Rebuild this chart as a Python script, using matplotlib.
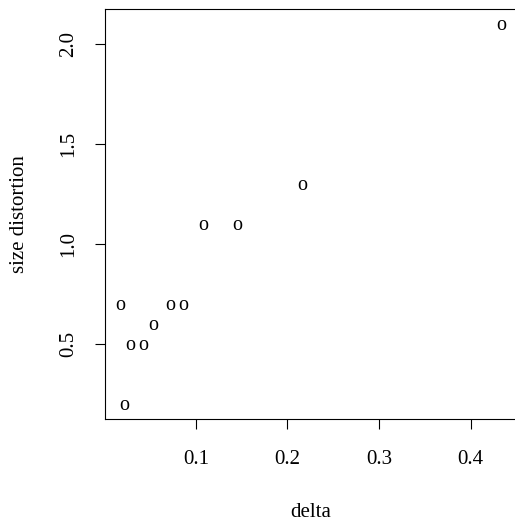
import matplotlib
matplotlib.use("Agg")
import matplotlib.pyplot as plt
from matplotlib.transforms import offset_copy

delta = [0.433, 0.2166, 0.1084, 0.1448, 0.0173, 0.072, 0.0866, 0.0538, 0.0282, 0.0428, 0.0213]
size_distortion = [2.1, 1.3, 1.1, 1.1, 0.7, 0.7, 0.7, 0.6, 0.5, 0.5, 0.2]
xticks = [0.1, 0.2, 0.3, 0.4]
yticks = [0.5, 1.0, 1.5, 2.0]

plt.rcParams['font.family'] = ['Liberation Serif', 'DejaVu Serif']

fig = plt.figure(figsize=(5.15, 5.24), dpi=100)
ax = fig.add_axes([105/515, (524-419)/524, (516-105)/515, (419-8.8)/524])

# R-style range: data range extended by 4%
xr = max(delta) - min(delta)
yr = max(size_distortion) - min(size_distortion)
ax.set_xlim(min(delta) - 0.04*xr, max(delta) + 0.04*xr)
ax.set_ylim(min(size_distortion) - 0.04*yr, max(size_distortion) + 0.04*yr)

# pch = "o" style points
tr = offset_copy(ax.transData, fig=fig, x=0, y=-1.5, units='dots')
for x, y in zip(delta, size_distortion):
    ax.text(x, y, 'o', ha='center', va='center', fontsize=14.5, transform=tr)

ax.set_xticks(xticks)
ax.set_xticklabels([str(t) for t in xticks])
ax.set_yticks(yticks)
ax.set_yticklabels([str(t) for t in yticks], rotation=90, va='center')
ax.tick_params(direction='out', length=7, width=0.8, labelsize=15)
ax.tick_params(axis='x', pad=15)
ax.tick_params(axis='y', pad=12)
for s in ax.spines.values():
    s.set_linewidth(0.8)

ax.set_xlabel('delta', fontsize=15, labelpad=25)
ax.set_ylabel('size distortion', fontsize=15, labelpad=22)

fig.savefig('out.png', dpi=100)
